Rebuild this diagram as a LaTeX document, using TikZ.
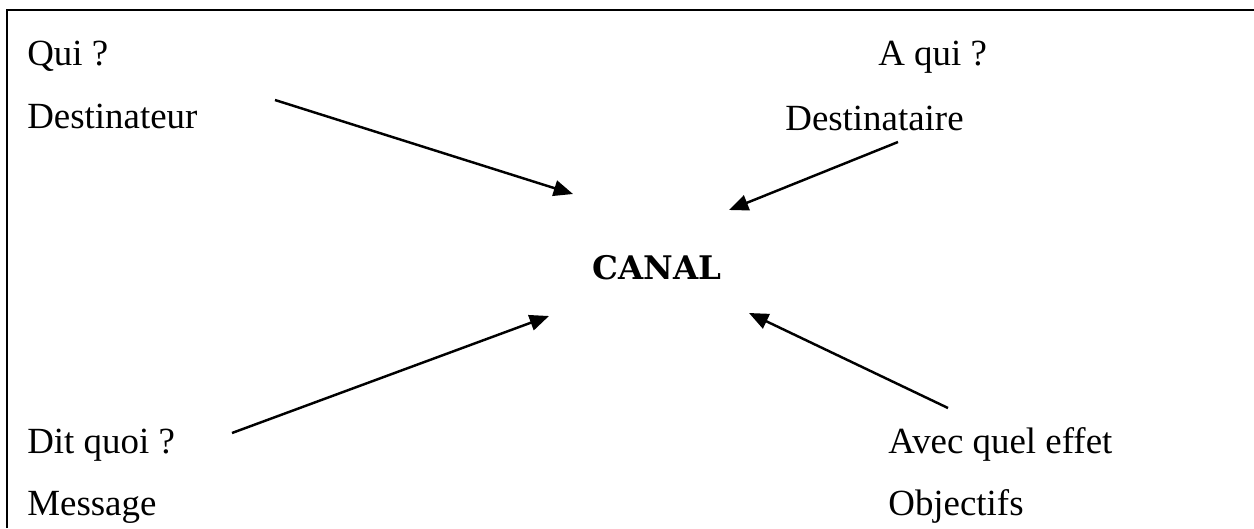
\documentclass[tikz,border=0pt]{standalone}
\usepackage{fontspec}
\setmainfont{Liberation Serif}
\newfontfamily\canalfont{DejaVu Serif}
\usetikzlibrary{arrows.meta}
\begin{document}
\begin{tikzpicture}[x=0.02cm,y=-0.02cm,
  lbl/.style={anchor=base west,inner sep=0pt,font=\fontsize{21}{25}\selectfont},
  arr/.style={line width=1.4pt,-{Triangle[length=11pt,width=9pt]}},
  frame/.style={line width=1.4pt}]
\useasboundingbox (0,0) rectangle (1254,528);
\draw[frame] (7,528) -- (7,10) -- (1254,10);
\node[lbl] (qui) at (27,65) {Qui ?};
\node[lbl] (dtr) at (27,128) {Destinateur};
\node[lbl] (aqui) at (878,65) {A qui ?};
\node[lbl] (dta) at (785,130) {Destinataire};
\node[lbl] (dit) at (27,453) {Dit quoi ?};
\node[lbl] (msg) at (27,515) {Message};
\node[lbl] (avec) at (888,453) {Avec quel effet};
\node[lbl] (obj) at (888,515) {Objectifs};
\node[anchor=base west,inner sep=0pt,font=\canalfont\bfseries\fontsize{18.5}{22}\selectfont] (canal) at (592,279) {CANAL};
\coordinate (s1) at (275,100);
\coordinate (t1) at (573,194);
\coordinate (s2) at (898,142);
\coordinate (t2) at (729,210);
\coordinate (s3) at (232,433);
\coordinate (t3) at (549,316);
\coordinate (s4) at (948,408);
\coordinate (t4) at (749,313);
\draw[arr] (s1) -- (t1);
\draw[arr] (s2) -- (t2);
\draw[arr] (s3) -- (t3);
\draw[arr] (s4) -- (t4);
\end{tikzpicture}
\end{document}
